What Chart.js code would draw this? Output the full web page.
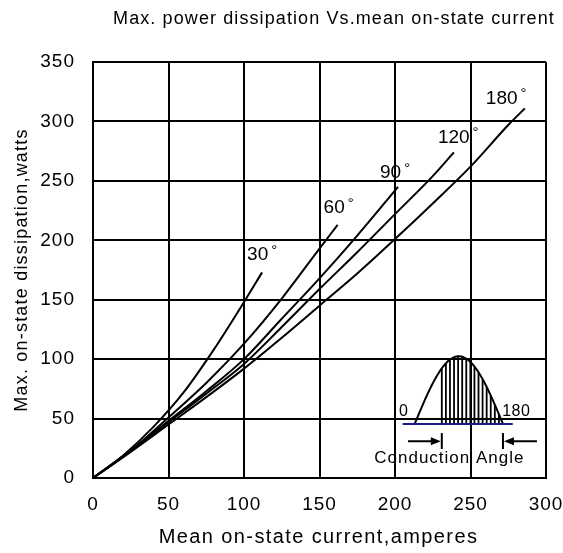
<!DOCTYPE html>
<html>
<head>
<meta charset="utf-8">
<script src="https://cdn.jsdelivr.net/npm/chart.js@4.4.1/dist/chart.umd.min.js"></script>
<style>
    body { margin: 0; background: #ffffff; }
    #contenedor { width: 563px; height: 553px; position: relative; }
</style>
</head>
<body>
<div id="contenedor"><canvas id="graficoPotencia"></canvas></div>
<script>
// DATOS (corriente media en A, potencia en W)
let angulos = ['30', '60', '90', '120', '180'];
let corriente30 = [0, 20, 40, 60, 80, 100, 112];
let potencia30 = [0, 19, 43, 72, 108, 148, 173];
let corriente60 = [0, 25, 50, 75, 100, 125, 150, 162];
let potencia60 = [0, 23, 51, 80, 113, 151, 193, 213];
let corriente90 = [0, 25, 50, 75, 100, 125, 150, 175, 202];
let potencia90 = [0, 23, 48, 73, 100, 134, 168, 204, 245];
let corriente120 = [0, 25, 50, 75, 100, 125, 150, 175, 200, 225, 239];
let potencia120 = [0, 23, 47, 71, 96, 127, 159, 190, 222, 254, 274];
let corriente180 = [0, 25, 50, 75, 100, 125, 150, 175, 200, 225, 250, 275, 286];
let potencia180 = [0, 22, 45, 68, 92, 118, 145, 172, 201, 231, 262, 297, 311];

let ticksX = [0, 50, 100, 150, 200, 250, 300];
let ticksY = [0, 50, 100, 150, 200, 250, 300, 350];

let fuente = '"Liberation Sans", Arial, sans-serif';

// Juntar x e y en puntos para Chart.js
function puntos(xs, ys) {
    let lista = [];
    for (let i = 0; i < xs.length; i++) {
        lista.push({ x: xs[i], y: ys[i] });
    }
    return lista;
}

let series = [
    puntos(corriente30, potencia30),
    puntos(corriente60, potencia60),
    puntos(corriente90, potencia90),
    puntos(corriente120, potencia120),
    puntos(corriente180, potencia180)
];

let datasets = [];
for (let i = 0; i < series.length; i++) {
    datasets.push({
        label: angulos[i] + '°',
        data: series[i],
        borderColor: '#000000',
        borderWidth: 2,
        pointRadius: 0,
        cubicInterpolationMode: 'monotone',
        fill: false
    });
}

// Desplazamiento (px) de cada etiqueta respecto al final de su curva
let desplazEtiqueta = [[-15, -18], [-14, -17], [-18, -14], [-16, -15], [-39, -10]];

// Escribir texto con espaciado entre letras
function texto(ctx, cadena, x, y, tam, espacio, alinear) {
    ctx.font = tam + 'px ' + fuente;
    ctx.letterSpacing = espacio + 'px';
    ctx.textAlign = alinear;
    ctx.fillText(cadena, x, y);
}

// PLUGIN: titulos, etiquetas de angulo y dibujo del angulo de conduccion
let pluginDibujos = {
    id: 'dibujos',
    beforeDraw: function(chart) {
        // las etiquetas de los ejes van un poco espaciadas
        chart.ctx.letterSpacing = '1px';
    },
    afterDatasetsDraw: function(chart) {
        let ctx = chart.ctx;
        let ex = chart.scales.x;
        let ey = chart.scales.y;
        let area = chart.chartArea;
        ctx.save();
        ctx.fillStyle = '#000000';
        ctx.textBaseline = 'middle';

        // Titulo
        texto(ctx, 'Max. power dissipation Vs.mean on-state current', 334, 19, 18, 1.1, 'center');

        // Titulo eje X
        texto(ctx, 'Mean on-state current,amperes', (area.left + area.right) / 2 - 1, 537, 20, 1.4, 'center');

        // Titulo eje Y (girado)
        ctx.save();
        ctx.translate(22, (area.top + area.bottom) / 2);
        ctx.rotate(-Math.PI / 2);
        texto(ctx, 'Max. on-state dissipation,watts', 0, 0, 18, 1.2, 'center');
        ctx.restore();

        // Etiquetas de angulo al final de cada curva
        for (let i = 0; i < series.length; i++) {
            let ultimo = series[i][series[i].length - 1];
            let px = ex.getPixelForValue(ultimo.x) + desplazEtiqueta[i][0];
            let py = ey.getPixelForValue(ultimo.y) + desplazEtiqueta[i][1];
            texto(ctx, angulos[i], px, py, 19, 0, 'left');
            let ancho = ctx.measureText(angulos[i]).width;
            texto(ctx, '°', px + ancho + 3, py - 4, 15, 0, 'left');
        }

        // Dibujo de la onda (en coordenadas del grafico)
        let base = 45.4;
        let inicio = 213, fin = 271.5, alto = 57;
        let corte = 231;
        function onda(a) {
            let t = (a - inicio) / (fin - inicio);
            return base + alto * Math.sin(Math.PI * t);
        }
        // rayado vertical
        ctx.strokeStyle = '#000000';
        ctx.lineWidth = 1.8;
        for (let a = corte; a <= fin - 1.5; a += 2.7) {
            ctx.beginPath();
            ctx.moveTo(ex.getPixelForValue(a), ey.getPixelForValue(base));
            ctx.lineTo(ex.getPixelForValue(a), ey.getPixelForValue(onda(a)));
            ctx.stroke();
        }
        // media onda
        ctx.lineWidth = 2;
        ctx.beginPath();
        for (let a = inicio; a <= fin; a += 0.5) {
            let px = ex.getPixelForValue(a);
            let py = ey.getPixelForValue(onda(a));
            if (a === inicio) ctx.moveTo(px, py); else ctx.lineTo(px, py);
        }
        ctx.stroke();
        // linea base azul
        ctx.strokeStyle = '#1a1a8c';
        ctx.beginPath();
        ctx.moveTo(ex.getPixelForValue(205), ey.getPixelForValue(base));
        ctx.lineTo(ex.getPixelForValue(278), ey.getPixelForValue(base));
        ctx.stroke();

        // marcas y flechas del angulo de conduccion
        ctx.strokeStyle = '#000000';
        let yFlecha = ey.getPixelForValue(31);
        let marcas = [corte, fin];
        for (let i = 0; i < marcas.length; i++) {
            let mx = ex.getPixelForValue(marcas[i]);
            ctx.beginPath();
            ctx.moveTo(mx, ey.getPixelForValue(37.8));
            ctx.lineTo(mx, ey.getPixelForValue(24.4));
            ctx.stroke();
        }
        let xIzq = ex.getPixelForValue(208.6);
        let xMarcaIzq = ex.getPixelForValue(corte);
        let xDer = ex.getPixelForValue(294);
        let xMarcaDer = ex.getPixelForValue(fin);
        ctx.beginPath();
        ctx.moveTo(xIzq, yFlecha);
        ctx.lineTo(xMarcaIzq - 8, yFlecha);
        ctx.moveTo(xDer, yFlecha);
        ctx.lineTo(xMarcaDer + 8, yFlecha);
        ctx.stroke();
        ctx.beginPath();
        ctx.moveTo(xMarcaIzq - 1, yFlecha);
        ctx.lineTo(xMarcaIzq - 11, yFlecha - 4);
        ctx.lineTo(xMarcaIzq - 11, yFlecha + 4);
        ctx.closePath();
        ctx.fill();
        ctx.beginPath();
        ctx.moveTo(xMarcaDer + 1, yFlecha);
        ctx.lineTo(xMarcaDer + 11, yFlecha - 4);
        ctx.lineTo(xMarcaDer + 11, yFlecha + 4);
        ctx.closePath();
        ctx.fill();

        // textos del dibujo
        texto(ctx, '0', ex.getPixelForValue(202.6), ey.getPixelForValue(55.5), 16, 0.5, 'left');
        texto(ctx, '180', ex.getPixelForValue(271), ey.getPixelForValue(55.5), 16, 0.5, 'left');
        texto(ctx, 'Conduction Angle', ex.getPixelForValue(236), ey.getPixelForValue(16.8), 17, 1, 'center');
        ctx.restore();
    }
};

let ctx = document.getElementById('graficoPotencia').getContext('2d');
let miGrafico = new Chart(ctx, {
    type: 'line',
    data: { datasets: datasets },
    plugins: [pluginDibujos],
    options: {
        responsive: true,
        maintainAspectRatio: false,
        animation: false,
        layout: { padding: { top: 62, right: 17, left: 0, bottom: 0 } },
        plugins: {
            legend: { display: false },
            tooltip: { enabled: false }
        },
        scales: {
            x: {
                type: 'linear',
                min: 0,
                max: 300,
                afterBuildTicks: function(eje) {
                    eje.ticks = ticksX.map(function(v) { return { value: v }; });
                },
                afterFit: function(eje) {
                    eje.height = 75;
                    eje.paddingLeft = 0;
                    eje.paddingRight = 0;
                },
                grid: { color: '#000000', lineWidth: 2, drawTicks: false },
                border: { color: '#000000', width: 2 },
                ticks: { color: '#000000', padding: 15, font: { family: fuente, size: 19 }, maxRotation: 0 }
            },
            y: {
                type: 'linear',
                min: 0,
                max: 350,
                afterBuildTicks: function(eje) {
                    eje.ticks = ticksY.map(function(v) { return { value: v }; });
                },
                afterFit: function(eje) { eje.width = 93; },
                grid: { color: '#000000', lineWidth: 2, drawTicks: false },
                border: { color: '#000000', width: 2 },
                ticks: { color: '#000000', padding: 18, font: { family: fuente, size: 19 } }
            }
        }
    }
});
</script>
</body>
</html>
